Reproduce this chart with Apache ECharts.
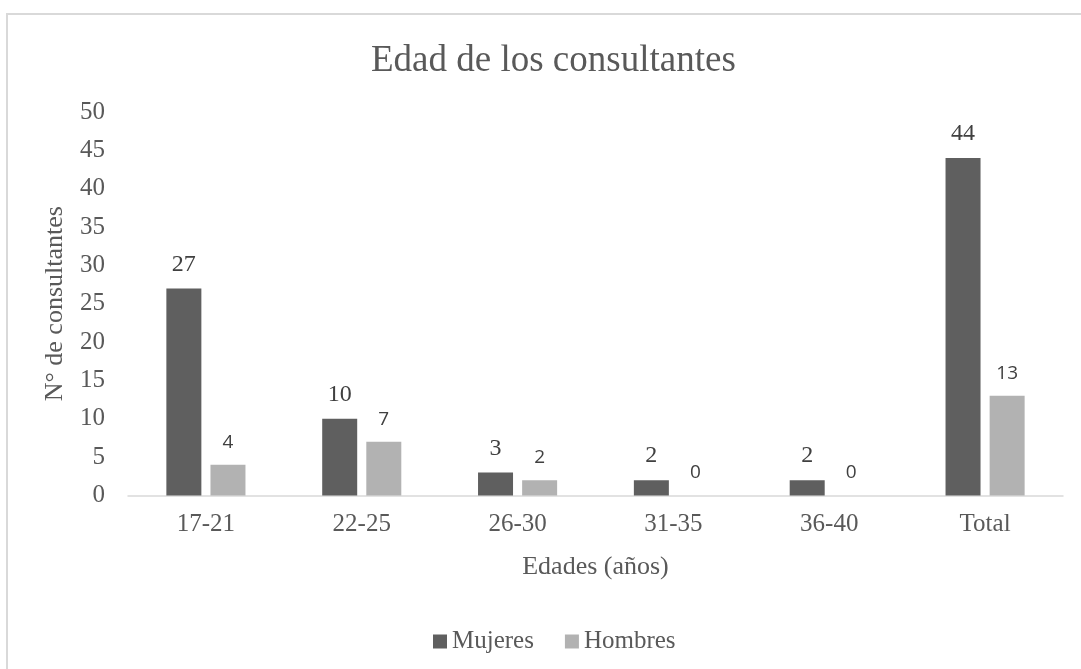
<!DOCTYPE html>
<html>
<head>
<meta charset="utf-8">
<script src="https://cdn.jsdelivr.net/npm/echarts@6/dist/echarts.min.js"></script>
<style>
html,body{margin:0;padding:0;background:#fff;}
#chart{width:1081px;height:669px;}
</style>
</head>
<body>
<div id="chart"></div>
<script>
var categories = ['17-21', '22-25', '26-30', '31-35', '36-40', 'Total'];
var mujeres = [27, 10, 3, 2, 2, 44];
var hombres = [4, 7, 2, 0, 0, 13];
var yTicks = {min: 0, max: 50, interval: 5};

var serif = "'Liberation Serif', 'Times New Roman', serif";
var sans = "'Open Sans', 'Liberation Sans', sans-serif";
var chart = echarts.init(document.getElementById('chart'), null, {renderer: 'canvas'});
chart.setOption({
  backgroundColor: '#ffffff',
  animation: false,
  graphic: [{
    type: 'rect', z: -1,
    shape: {x: 7, y: 14, width: 1300, height: 900},
    style: {fill: '#ffffff', stroke: '#d9d9d9', lineWidth: 2}
  }],
  title: {
    text: 'Edad de los consultantes',
    left: 366, top: 38,
    textStyle: {fontFamily: serif, fontSize: 37, fontWeight: 'normal', color: '#595959'}
  },
  legend: {
    left: 428, top: 624,
    itemWidth: 14, itemHeight: 14, itemGap: 31,
    icon: 'rect',
    textStyle: {fontFamily: serif, fontSize: 25, color: '#595959'},
    data: ['Mujeres', 'Hombres']
  },
  grid: {left: 128, right: 18, top: 112, bottom: 173.5, containLabel: false},
  xAxis: {
    type: 'category',
    data: categories,
    name: 'Edades (años)',
    nameLocation: 'middle',
    nameGap: 59,
    nameTextStyle: {fontFamily: serif, fontSize: 26, color: '#595959', verticalAlign: 'top'},
    axisLine: {show: true, lineStyle: {color: '#d9d9d9', width: 1.5}},
    axisTick: {show: false},
    axisLabel: {fontFamily: serif, fontSize: 25, color: '#595959', margin: 16},
    splitLine: {show: false}
  },
  yAxis: {
    type: 'value',
    min: yTicks.min, max: yTicks.max, interval: yTicks.interval,
    name: 'N° de consultantes',
    nameLocation: 'middle',
    nameGap: 60,
    nameRotate: 90,
    nameTextStyle: {fontFamily: serif, fontSize: 26, color: '#595959'},
    axisLine: {show: false},
    axisTick: {show: false},
    axisLabel: {fontFamily: serif, fontSize: 25, color: '#595959', margin: 23},
    splitLine: {show: false}
  },
  series: [{
    name: 'Mujeres',
    type: 'bar',
    data: mujeres,
    barWidth: 35,
    barGap: '26%',
    itemStyle: {color: '#5f5f5f'},
    label: {show: true, position: 'top', distance: 12, fontFamily: serif, fontSize: 24, color: '#404040'}
  }, {
    name: 'Hombres',
    type: 'bar',
    data: hombres,
    barWidth: 35,
    barGap: '26%',
    itemStyle: {color: '#b2b2b2'},
    label: {show: true, position: 'top', distance: 13, fontFamily: sans, fontSize: 19, color: '#404040'}
  }]
});
</script>
</body>
</html>
